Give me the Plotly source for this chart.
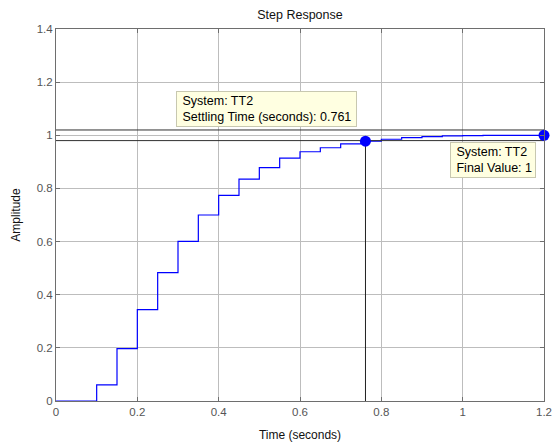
import plotly.graph_objects as go

# ---- data ----
time_s = [0.00, 0.05, 0.10, 0.15, 0.20, 0.25, 0.30, 0.35, 0.40, 0.45, 0.50,
          0.55, 0.60, 0.65, 0.70, 0.75, 0.80, 0.85, 0.90, 0.95, 1.00,
          1.05, 1.10, 1.15, 1.20]
amplitude = [0.000, 0.000, 0.061, 0.197, 0.344, 0.483, 0.601, 0.700, 0.774, 0.835, 0.878,
             0.914, 0.938, 0.953, 0.968, 0.978, 0.985, 0.991, 0.995, 0.998, 0.999,
             1.000, 1.000, 1.000, 1.000]
settling_time = 0.761
settling_value = 0.978
final_time = 1.2
final_value = 1.0
tolerance = 0.02
system_name = "TT2"
x_ticks = [0, 0.2, 0.4, 0.6, 0.8, 1, 1.2]
y_ticks = [0, 0.2, 0.4, 0.6, 0.8, 1, 1.2, 1.4]

FONT = "Liberation Sans, Arial, sans-serif"
AXIS_COL = "#6e6e6e"
GRID_COL = "#bdbdbd"
NB = "\u00a0"

fig = go.Figure()

# response
fig.add_trace(go.Scatter(
    x=time_s, y=amplitude, mode="lines", line=dict(color="#0000ff", width=1.2, shape="hv"),
    hoverinfo="skip", showlegend=False))

# settling band lines
for yv in (final_value + tolerance, final_value - tolerance):
    fig.add_trace(go.Scatter(
        x=[0, final_time], y=[yv, yv], mode="lines",
        line=dict(color="#303030", width=1), hoverinfo="skip", showlegend=False))

# settling time vertical line
fig.add_trace(go.Scatter(
    x=[settling_time, settling_time], y=[0, settling_value], mode="lines",
    line=dict(color="#202020", width=1), hoverinfo="skip", showlegend=False))

# markers
fig.add_trace(go.Scatter(
    x=[settling_time, final_time], y=[settling_value, final_value], mode="markers",
    marker=dict(color="#0000ff", size=11), cliponaxis=False,
    hoverinfo="skip", showlegend=False))

fig.add_annotation(
    x=0.295, y=1.167, xref="x", yref="y", xanchor="left", yanchor="top",
    text=f"{NB}System: {system_name}<br>{NB}Settling Time (seconds): {settling_time}",
    showarrow=False, align="left", width=175, bgcolor="#ffffe1", bordercolor="#c8c8b0",
    borderwidth=1, borderpad=2, font=dict(family=FONT, size=12.5, color="#000000"))

fig.add_annotation(
    x=0.970, y=0.976, xref="x", yref="y", xanchor="left", yanchor="top",
    text=f"{NB}System: {system_name}<br>{NB}Final Value: {final_value:g}",
    showarrow=False, align="left", width=80, bgcolor="#ffffe1", bordercolor="#c8c8b0",
    borderwidth=1, borderpad=2, font=dict(family=FONT, size=12.5, color="#000000"))

fig.update_layout(
    width=553, height=442,
    margin=dict(l=56, r=9, t=29, b=41, autoexpand=False),
    paper_bgcolor="white", plot_bgcolor="white",
    font=dict(family=FONT, size=11, color="#555555"),
    title=dict(text="Step Response", xref="paper", x=0.5, xanchor="center",
               y=0.966, yanchor="middle",
               font=dict(family=FONT, size=12.5, color="#111111")),
)

fig.update_xaxes(
    range=[0, 1.2], tickvals=x_ticks, ticktext=[f"{v:g}" for v in x_ticks],
    automargin=False,
    showgrid=True, gridcolor=GRID_COL, gridwidth=1, zeroline=False,
    showline=True, linecolor=AXIS_COL, linewidth=1, mirror="ticks",
    ticks="inside", ticklen=4, tickcolor=AXIS_COL,
    tickfont=dict(family=FONT, size=11.5, color="#555555"),
    title=dict(text="Time (seconds)", standoff=14, font=dict(family=FONT, size=12, color="#111111")))

fig.update_yaxes(
    range=[0, 1.4], tickvals=y_ticks, ticktext=[f"{v:g}" for v in y_ticks],
    automargin=False,
    showgrid=True, gridcolor=GRID_COL, gridwidth=1, zeroline=False,
    showline=True, linecolor=AXIS_COL, linewidth=1, mirror="ticks",
    ticks="inside", ticklen=4, tickcolor=AXIS_COL,
    tickfont=dict(family=FONT, size=11.5, color="#555555"),
    title=dict(text="Amplitude", standoff=13, font=dict(family=FONT, size=12, color="#111111")))

fig.write_html("out.html",
               config={"displayModeBar": False},
               post_script="document.body.style.margin='0';document.body.style.overflow='hidden';")
